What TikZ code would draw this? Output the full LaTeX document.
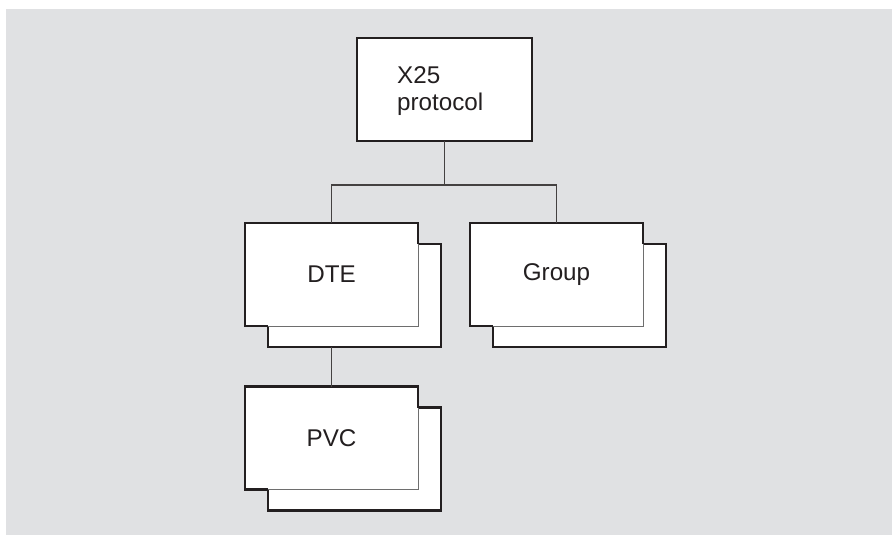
\documentclass[tikz,border=0pt]{standalone}
\usepackage{fontspec}
\setmainfont{Liberation Sans}
\definecolor{bg}{RGB}{224,225,227}
\definecolor{ink}{RGB}{35,31,32}
\definecolor{edge}{RGB}{110,110,110}
\tikzset{
  box/.style={fill=white, minimum width=173pt, minimum height=103pt, inner sep=0pt, outer sep=0pt,
    font=\fontsize{24.2}{27}\selectfont, text=ink},
  backbox/.style={box, draw=ink, line width=2.2pt},
  frontbox/.style={box, draw=edge, line width=0.9pt},
  thickedge/.style={draw=ink, line width=2.2pt},
  conn/.style={draw=ink!85, line width=1.2pt}
}
\newcommand{\stackedbox}[3]{%
  \node[backbox] (#1b) at ($(#2)+(23pt,-21pt)$) {};
  \node[frontbox] (#1) at (#2) {#3};
  \draw[thickedge] (#1b.north -| #1.east) -- (#1.north east) -- (#1.north west) -- (#1.south west) -- (#1.south -| #1b.west);
}
\usetikzlibrary{calc}
\begin{document}
\begin{tikzpicture}[x=1pt,y=-1pt]
\useasboundingbox (0,0) rectangle (892,535);
\fill[bg] (6,9) rectangle (892,535);
% top box
\node[box, draw=ink, line width=2.2pt, minimum width=175pt] (x25) at (444.5,89.5) {};
\node[anchor=west, align=left, inner sep=0pt, font=\fontsize{24.2}{27}\selectfont, text=ink] (x25t) at (397,90.7) {X25\\protocol};
% stacked boxes
\stackedbox{dte}{331.5,274.5}{DTE}
\stackedbox{grp}{556.5,274.5}{Group}
\stackedbox{pvc}{331.5,438}{PVC}
% connectors
\coordinate (bus) at (444.5,185);
\draw[conn] (x25.south) -- (bus);
\draw[conn] (dte.north) |- (bus) -| (grp.north);
\draw[conn] (dte.south |- dteb.south) -- (pvc.north);
\end{tikzpicture}
\end{document}
